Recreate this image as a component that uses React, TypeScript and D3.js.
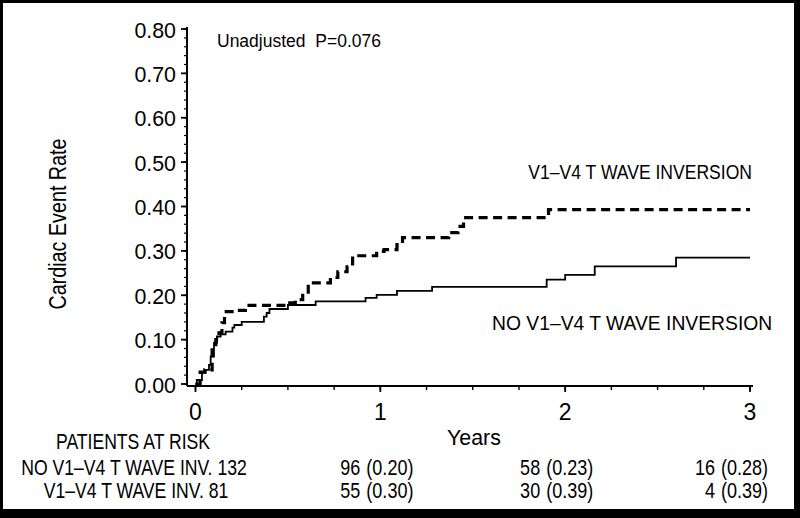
import React from "react";
import * as d3 from "d3";

// ---- data ----
const noInvTimes = [0, 0.007, 0.035, 0.055, 0.073, 0.082, 0.1, 0.116, 0.136, 0.163, 0.2, 0.21, 0.25, 0.37, 0.385, 0.4, 0.5, 0.65, 0.92, 0.98, 1.09, 1.28, 1.9, 2.0, 2.16, 2.6, 3.0];
const noInvRates = [0, 0.009, 0.025, 0.032, 0.043, 0.062, 0.093, 0.107, 0.112, 0.118, 0.127, 0.133, 0.14, 0.152, 0.16, 0.169, 0.178, 0.186, 0.194, 0.201, 0.21, 0.219, 0.235, 0.246, 0.265, 0.285, 0.285];

const invTimes = [0, 0.025, 0.05, 0.09, 0.11, 0.127, 0.143, 0.157, 0.22, 0.27, 0.51, 0.54, 0.58, 0.61, 0.73, 0.77, 0.82, 0.85, 0.98, 1.02, 1.09, 1.12, 1.37, 1.42, 1.45, 1.91, 3.0];
const invRates = [0, 0.027, 0.032, 0.084, 0.1, 0.115, 0.138, 0.163, 0.166, 0.177, 0.183, 0.19, 0.2, 0.228, 0.24, 0.253, 0.264, 0.289, 0.299, 0.303, 0.314, 0.33, 0.341, 0.355, 0.375, 0.393, 0.393];

const yTicks = [0, 0.1, 0.2, 0.3, 0.4, 0.5, 0.6, 0.7, 0.8];
const xTicks = [0, 1, 2, 3];

const riskYears = [1, 2, 3];
const riskNoCounts = [96, 58, 16];
const riskNoRates = ["0.20", "0.23", "0.28"];
const riskInvCounts = [55, 30, 4];
const riskInvRates = ["0.30", "0.39", "0.39"];
const riskColOffsets = [-2, -7, -17];

const FONT = "'Liberation Sans', Arial, Helvetica, sans-serif";

function CText({ x, y, size, sx = 1, anchor = "start", children, rotate = 0 }: any) {
  return (
    <text
      transform={`translate(${x},${y}) rotate(${rotate}) scale(${sx},1)`}
      fontSize={size}
      fontFamily={FONT}
      textAnchor={anchor}
      fill="#000"
      style={{ whiteSpace: "pre" }}
    >
      {children}
    </text>
  );
}

export default function App() {
  const W = 800, H = 518;
  const x = d3.scaleLinear().domain([0, 3]).range([195.5, 750]);
  const y = d3.scaleLinear().domain([0, 0.8]).range([384, 29]);
  const axisY = 386;
  const axisX = 187;

  const line = d3
    .line<[number, number]>()
    .x((d) => x(d[0]))
    .y((d) => y(d[1]))
    .curve(d3.curveStepAfter);

  const noInv: [number, number][] = noInvTimes.map((t, i) => [t, noInvRates[i]]);
  const inv: [number, number][] = invTimes.map((t, i) => [t, invRates[i]]);

  const yMinor = d3.range(0, 0.8001, 0.02);
  const xMinor = d3.range(0, 3.001, 0.25);

  return (
    <div style={{ position: "absolute", left: 0, top: 0 }}>
      <svg width={W} height={H} style={{ display: "block" }}>
        <rect x={0} y={0} width={W} height={H} fill="#000" />
        <rect x={3} y={3} width={791} height={506} fill="#fff" />

        {/* y axis */}
        <line x1={axisX} x2={axisX} y1={y(0.8) - 2} y2={axisY} stroke="#000" strokeWidth={2} />
        {yMinor.map((v, i) => (
          <line key={"ym" + i} x1={axisX - 3} x2={axisX} y1={y(v)} y2={y(v)} stroke="#000" strokeWidth={1.2} />
        ))}
        {yTicks.map((v) => (
          <g key={"yt" + v}>
            <line x1={axisX - 6} x2={axisX} y1={y(v)} y2={y(v)} stroke="#000" strokeWidth={1.8} />
            <CText x={176} y={y(v) + 8.5} size={23} sx={0.93} anchor="end">
              {v.toFixed(2)}
            </CText>
          </g>
        ))}

        {/* x axis */}
        <line x1={axisX} x2={753} y1={axisY} y2={axisY} stroke="#000" strokeWidth={2} />
        {xMinor.map((v, i) => (
          <line key={"xm" + i} x1={x(v)} x2={x(v)} y1={axisY} y2={axisY + 4} stroke="#000" strokeWidth={1.4} />
        ))}
        {xTicks.map((v) => (
          <g key={"xt" + v}>
            <line x1={x(v)} x2={x(v)} y1={axisY} y2={axisY + 6} stroke="#000" strokeWidth={1.8} />
            <CText x={x(v)} y={420} size={23} anchor="middle">
              {String(v)}
            </CText>
          </g>
        ))}

        {/* curves */}
        <path d={line(noInv) || ""} fill="none" stroke="#000" strokeWidth={1.8} />
        <path d={line(inv) || ""} fill="none" stroke="#000" strokeWidth={3.2} strokeDasharray="9,5.5" />

        {/* labels */}
        <CText x={66} y={224} size={23.5} sx={0.84} anchor="middle" rotate={-90}>
          Cardiac Event Rate
        </CText>
        <CText x={217} y={47} size={17.5}>
          {"Unadjusted  P=0.076"}
        </CText>
        <CText x={752} y={179} size={19.5} sx={0.9} anchor="end">
          V1–V4 T WAVE INVERSION
        </CText>
        <CText x={492} y={330} size={19.5} sx={0.99}>
          NO V1–V4 T WAVE INVERSION
        </CText>
        <CText x={474} y={445} size={23} sx={0.93} anchor="middle">
          Years
        </CText>

        {/* patients at risk */}
        <CText x={133} y={449} size={22} sx={0.8} anchor="middle">
          PATIENTS AT RISK
        </CText>
        <CText x={134} y={475} size={22} sx={0.8} anchor="middle">
          NO V1–V4 T WAVE INV. 132
        </CText>
        <CText x={136} y={498} size={22} sx={0.8} anchor="middle">
          V1–V4 T WAVE INV. 81
        </CText>
        {riskYears.map((yr, i) => {
          const cx = x(yr) + riskColOffsets[i];
          return (
            <g key={"r" + yr}>
              <CText x={cx - 18} y={475} size={22} sx={0.82} anchor="end">
                {String(riskNoCounts[i])}
              </CText>
              <CText x={cx - 12} y={475} size={22} sx={0.82}>
                {`(${riskNoRates[i]})`}
              </CText>
              <CText x={cx - 18} y={498} size={22} sx={0.82} anchor="end">
                {String(riskInvCounts[i])}
              </CText>
              <CText x={cx - 12} y={498} size={22} sx={0.82}>
                {`(${riskInvRates[i]})`}
              </CText>
            </g>
          );
        })}
      </svg>
    </div>
  );
}
